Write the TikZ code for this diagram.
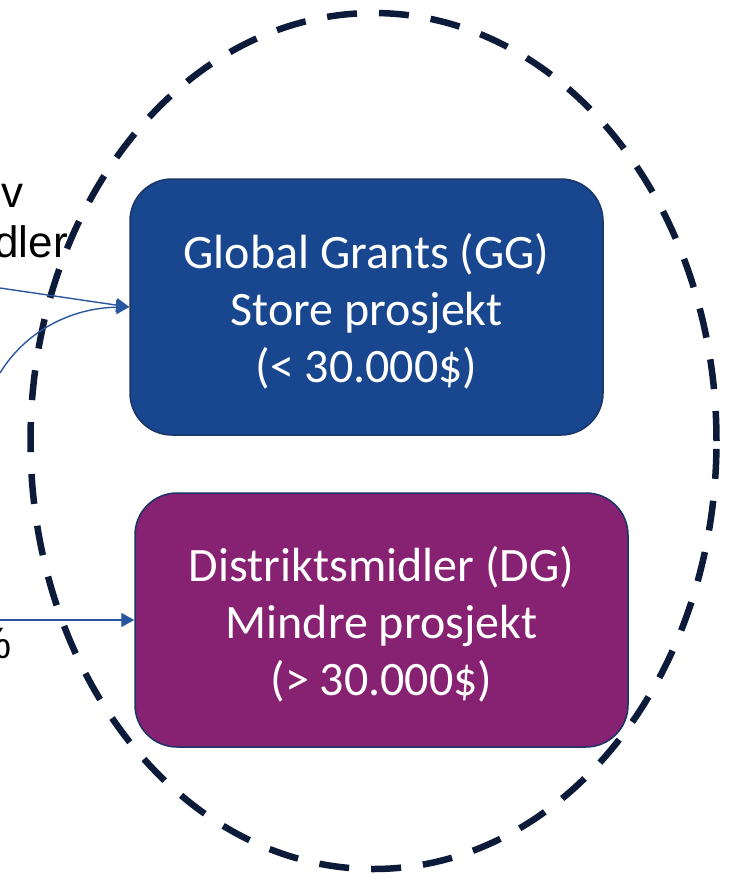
\documentclass[tikz,border=0pt]{standalone}
\usepackage{fontspec}
\usetikzlibrary{arrows.meta,shapes.geometric}
\newfontfamily\boxfont{Carlito}
\newfontfamily\sidefont{Liberation Sans}
\definecolor{ggblue}{HTML}{18468F}
\definecolor{dgpurple}{HTML}{872171}
\definecolor{boxedge}{HTML}{1A3566}
\definecolor{ringcol}{HTML}{0C1B3A}
\definecolor{arrowcol}{HTML}{2A56A0}
\newcommand{\liftstrut}{\rule{0pt}{44pt}}
\tikzset{
  grantbox/.style={draw=boxedge, line width=1.5pt, rounded corners=42pt, inner sep=0pt,
    align=center, text=white, font=\boxfont\fontsize{48}{57}\selectfont},
  sidetext/.style={inner sep=0pt, font=\sidefont\fontsize{44}{50}\selectfont, text=black},
  ring/.style={draw=ringcol, line width=6.5pt, dash pattern=on 30pt off 22pt},
  conn/.style={draw=arrowcol, line width=1.4pt, -{Triangle[length=13pt,width=14pt]}}
}
\begin{document}
\begin{tikzpicture}[x=1pt,y=-1pt]
\useasboundingbox (0,0) rectangle (730,879);
\clip (0,0) rectangle (730,879);
% fragments of text cut off at the left edge
\node[sidetext, anchor=base east] (t1) at (24,207) {v};
\node[sidetext, anchor=base east] (t2) at (68,257) {dler};
\node[sidetext, anchor=base east] (t3) at (12,658) {\%};
% dashed ring
\node[ring, ellipse, minimum width=686pt, minimum height=856pt, inner sep=0pt] (ring) at (373.5,441) {};
% boxes
\node[grantbox, fill=ggblue, minimum width=473pt, minimum height=256pt] (gg) at (366.5,307)
  {\liftstrut Global Grants (GG)\\Store prosjekt\\(< 30.000\$)};
\node[grantbox, fill=dgpurple, minimum width=493pt, minimum height=254pt] (dg) at (381.5,620)
  {\liftstrut Distriktsmidler (DG)\\Mindre prosjekt\\(> 30.000\$)};
% connectors
\coordinate (s1) at (0,288);
\coordinate (s2) at (0,373);
\coordinate (s3) at (0,620);
\draw[conn] (s1) -- (gg.west);
\draw[conn] (s2) .. controls (25,332) and (70,308) .. (gg.west);
\draw[conn] (s3) -- (dg.west);
\end{tikzpicture}
\end{document}
